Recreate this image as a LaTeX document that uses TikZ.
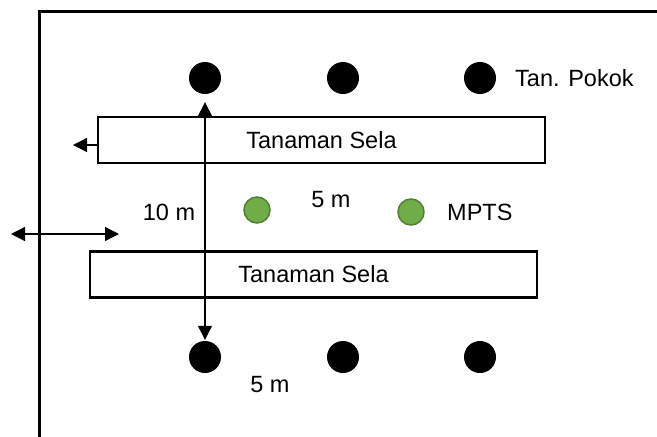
\documentclass[tikz,border=0pt]{standalone}
\usepackage{fontspec}
\setmainfont{Liberation Sans}
\usetikzlibrary{arrows.meta}
\definecolor{mptsfill}{HTML}{70AD47}
\definecolor{mptsdraw}{HTML}{507E32}
\begin{document}
\begin{tikzpicture}[x=1pt,y=-1pt,
  tree/.style={circle,fill=black,draw=none,minimum size=32pt,inner sep=0pt},
  mpts/.style={circle,fill=mptsfill,draw=mptsdraw,line width=1.5pt,minimum size=26pt,inner sep=0pt},
  bed/.style={draw=black,line width=2.5pt,fill=white,minimum width=447pt,minimum height=46pt,inner sep=0pt,font=\fontsize{23.5}{27}\selectfont},
  lbl/.style={font=\fontsize{23.5}{27}\selectfont,inner sep=0pt},
  dim/.style={line width=1.3pt,-{Triangle[length=14pt,width=14pt]}},
  dimb/.style={line width=1.3pt,{Triangle[length=14pt,width=14pt]}-{Triangle[length=14pt,width=14pt]}}]
\useasboundingbox (0,0) rectangle (657,437);
% frame
\draw[line width=3pt] (39,437) -- (39,11) -- (657,11);
% trees
\node[tree] (t1) at (205,78) {};
\node[tree] (t2) at (343,78) {};
\node[tree] (t3) at (480,78) {};
\node[tree] (b1) at (205,357) {};
\node[tree] (b2) at (343,357) {};
\node[tree] (b3) at (480,357) {};
\node[lbl,anchor=west] (tp) at (515,78) {Tan. Pokok};
% beds
\node[bed] (r1) at (321.5,140) {Tanaman Sela};
\node[bed] (r2) at (313.5,274.5) {Tanaman Sela};
% MPTS
\node[mpts] (m1) at (257,210) {};
\node[mpts] (m2) at (411,212) {};
\node[lbl,anchor=west] (ml) at (447,212) {MPTS};
% labels
\node[lbl] (d5a) at (331,200) {5 m};
\node[lbl] (d10) at (169,212) {10 m};
\node[lbl] (d5b) at (270,385) {5 m};
% vertical dimension
\draw[dimb,shorten <=1pt,shorten >=8pt] (b1.north) -- (t1.south);
% left arrow
\coordinate (la) at (73,145);
\draw[dim] (r1.west |- la) -- (la);
% double arrow
\coordinate (dl) at (11,234);
\coordinate (dr) at (119,234);
\draw[dimb] (dl) -- (dr);
\end{tikzpicture}
\end{document}
